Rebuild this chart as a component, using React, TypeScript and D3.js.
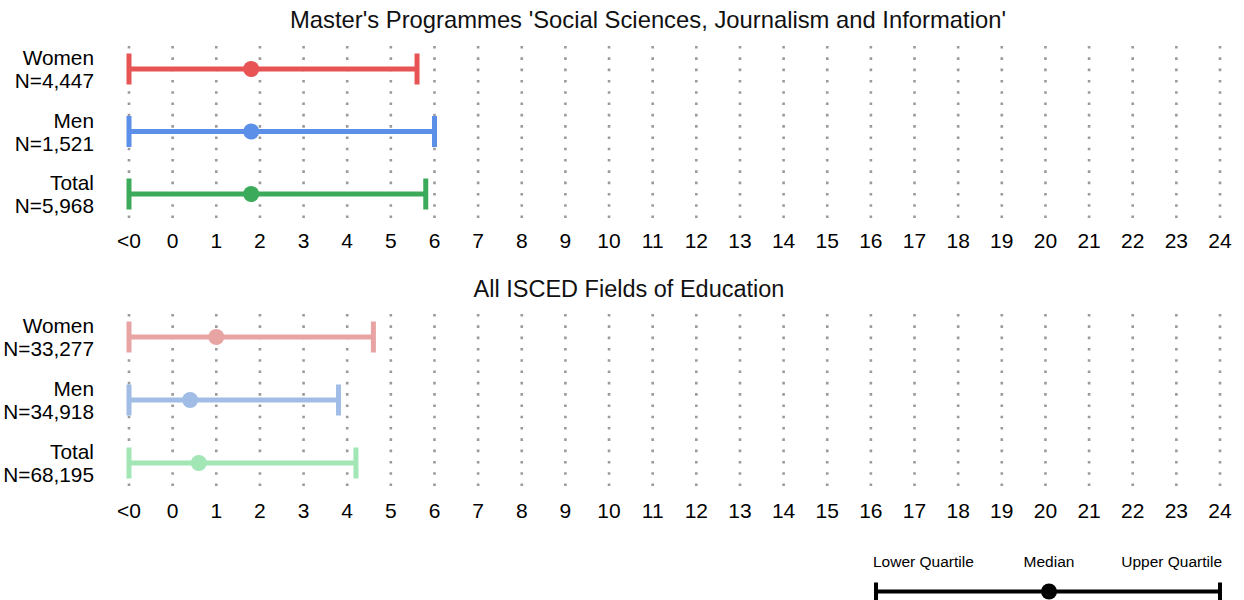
import React, { useEffect, useRef } from 'react';
import * as d3 from 'd3';

// x positions: -1 stands for "<0"
const xTicks = d3.range(-1, 25);
const tickLabel = (v: number) => (v < 0 ? '<0' : String(v));

const groups = ['Women', 'Men', 'Total'];

const panelTitles = [
  "Master's Programmes 'Social Sciences, Journalism and Information'",
  'All ISCED Fields of Education',
];

// Master's programmes
const topN = ['4,447', '1,521', '5,968'];
const topLower = [-1, -1, -1];
const topMedian = [1.8, 1.8, 1.8];
const topUpper = [5.6, 6.0, 5.8];
const topColors = ['#e85454', '#5b8fe8', '#3caa5b'];

// all fields
const allN = ['33,277', '34,918', '68,195'];
const allLower = [-1, -1, -1];
const allMedian = [1.0, 0.4, 0.6];
const allUpper = [4.6, 3.8, 4.2];
const allColors = ['#e8a3a3', '#a1bde6', '#a2e6b5'];

const legendLabels = ['Lower Quartile', 'Median', 'Upper Quartile'];

const FONT = '"Liberation Sans", Arial, Helvetica, sans-serif';

const App: React.FC = () => {
  const svgRef = useRef<SVGSVGElement>(null);

  useEffect(() => {
    if (!svgRef.current) return;
    const svg = d3.select(svgRef.current);
    svg.selectAll('*').remove();

    const x = d3.scaleLinear().domain([-1, 24]).range([129, 1220]);

    const panels = [
      { title: panelTitles[0], titleX: 648, titleY: 28, titleSize: 23.8, rows: [69, 194], tickY: 248,
        n: topN, lo: topLower, med: topMedian, hi: topUpper, colors: topColors },
      { title: panelTitles[1], titleX: 629, titleY: 297, titleSize: 23.5, rows: [337, 463], tickY: 518,
        n: allN, lo: allLower, med: allMedian, hi: allUpper, colors: allColors },
    ];

    panels.forEach(p => {
      const y = d3.scalePoint<string>().domain(groups).range(p.rows as [number, number]);
      const g = svg.append('g');

      g.append('text')
        .attr('x', p.titleX)
        .attr('y', p.titleY)
        .attr('text-anchor', 'middle')
        .attr('font-size', p.titleSize)
        .attr('fill', '#111')
        .text(p.title);

      // dotted grid
      g.selectAll('line.grid')
        .data(xTicks)
        .enter().append('line')
        .attr('class', 'grid')
        .attr('x1', d => x(d))
        .attr('x2', d => x(d))
        .attr('y1', p.rows[0] - 23)
        .attr('y2', p.rows[1] + 24)
        .attr('stroke', '#9a9a9a')
        .attr('stroke-width', 2.6)
        .attr('stroke-dasharray', '2.6 8.7');

      // tick labels
      g.selectAll('text.tick')
        .data(xTicks)
        .enter().append('text')
        .attr('class', 'tick')
        .attr('x', d => x(d))
        .attr('y', p.tickY)
        .attr('text-anchor', 'middle')
        .attr('font-size', 21)
        .attr('fill', '#000')
        .text(d => tickLabel(d));

      groups.forEach((grp, i) => {
        const cy = y(grp)!;
        const col = p.colors[i];
        const row = g.append('g');

        row.append('text')
          .attr('x', 94)
          .attr('y', cy - 4)
          .attr('text-anchor', 'end')
          .attr('font-size', 20.8)
          .text(grp);
        row.append('text')
          .attr('x', 94)
          .attr('y', cy + 19)
          .attr('text-anchor', 'end')
          .attr('font-size', 20.8)
          .text(`N=${p.n[i]}`);

        row.append('line')
          .attr('x1', x(p.lo[i])).attr('x2', x(p.hi[i]))
          .attr('y1', cy).attr('y2', cy)
          .attr('stroke', col).attr('stroke-width', 5);
        [p.lo[i], p.hi[i]].forEach(v => {
          row.append('line')
            .attr('x1', x(v)).attr('x2', x(v))
            .attr('y1', cy - 15.5).attr('y2', cy + 15.5)
            .attr('stroke', col).attr('stroke-width', 5);
        });
        row.append('circle')
          .attr('cx', x(p.med[i]))
          .attr('cy', cy)
          .attr('r', 8)
          .attr('fill', col);
      });
    });

    // legend
    const lx = d3.scalePoint<string>().domain(legendLabels).range([876, 1220]);
    const leg = svg.append('g');
    const ly = 591.5;
    leg.append('line')
      .attr('x1', lx(legendLabels[0])!).attr('x2', lx(legendLabels[2])!)
      .attr('y1', ly).attr('y2', ly)
      .attr('stroke', '#000').attr('stroke-width', 4);
    [legendLabels[0], legendLabels[2]].forEach(l => {
      leg.append('line')
        .attr('x1', lx(l)!).attr('x2', lx(l)!)
        .attr('y1', ly - 9).attr('y2', ly + 12)
        .attr('stroke', '#000').attr('stroke-width', 4);
    });
    leg.append('circle')
      .attr('cx', lx(legendLabels[1])! + 1)
      .attr('cy', ly)
      .attr('r', 8)
      .attr('fill', '#000');
    leg.selectAll('text')
      .data(legendLabels)
      .enter().append('text')
      .attr('x', (d, i) => (i === 0 ? 873 : i === 2 ? 1222 : lx(d)! + 1))
      .attr('y', 567)
      .attr('text-anchor', (_d, i) => (i === 0 ? 'start' : i === 2 ? 'end' : 'middle'))
      .attr('font-size', 15.5)
      .text(d => d);
  }, []);

  return (
    <svg
      ref={svgRef}
      width={1244}
      height={600}
      style={{ position: 'absolute', left: 0, top: 0, background: '#fff', fontFamily: FONT }}
    ></svg>
  );
};

export default App;
